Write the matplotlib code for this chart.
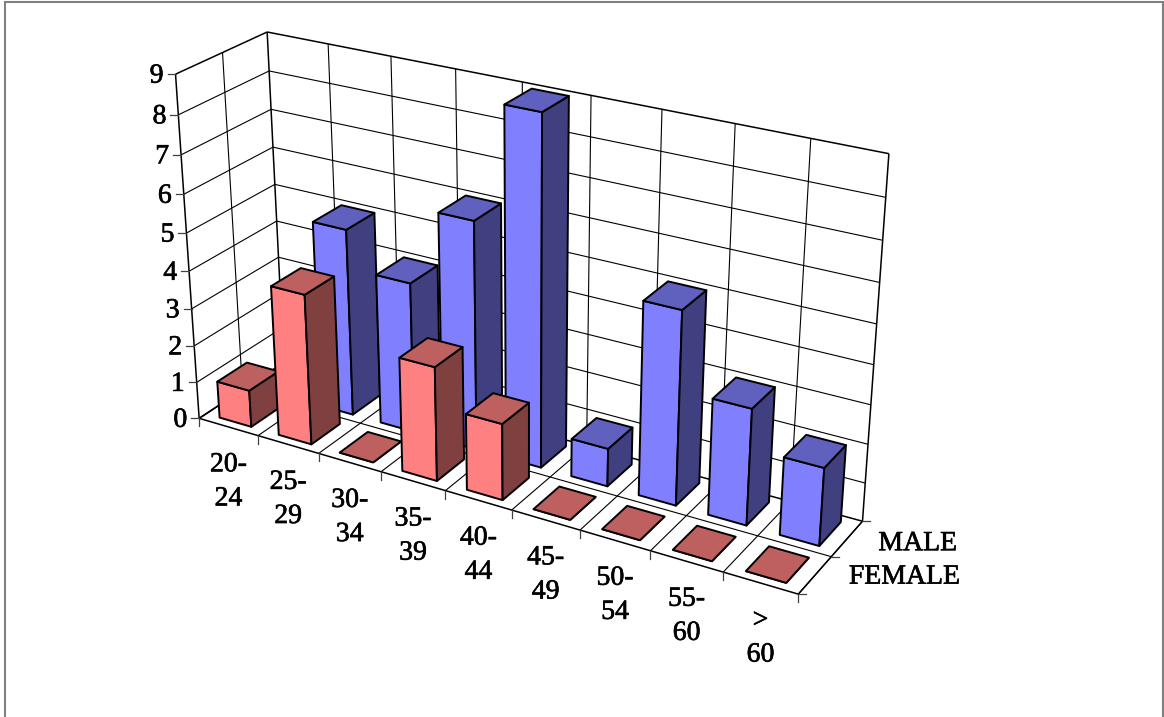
import numpy as np
import matplotlib
matplotlib.use('Agg')
import matplotlib.pyplot as plt
import matplotlib.patheffects as pe
from matplotlib.patches import Polygon, Rectangle

categories = ['20-\n24', '25-\n29', '30-\n34', '35-\n39', '40-\n44', '45-\n49', '50-\n54', '55-\n60', '>\n60']
male = [0, 5, 4, 6, 9, 1, 5, 3, 2]
female = [1, 4, 0, 3, 2, 0, 0, 0, 0]
value_ticks = list(range(10))

# pixel position of known box corners and gridline ends, used to solve the camera
# (category, depth, value) -> (px, py)
camera_refs = [
    (0, 0, 0, 199.3, 417.3), (0, 0, 9, 175.7, 73.3), (0, 2, 9, 266.7, 31.7),
    (0, 2, 0, 285, 365), (9, 2, 9, 889, 153.7), (9, 2, 0, 863.3, 519.3),
    (9, 0, 0, 799, 593.3), (9, 1, 0, 830, 556), (0, 2, 3, 278, 256.7),
    (0, 0, 8, 179.3, 116), (0, 0, 7, 181.7, 156), (0, 0, 6, 184.3, 193.3),
    (0, 0, 5, 185, 233), (0, 0, 4, 189.3, 271.7), (0, 0, 3, 191.7, 307.7),
    (0, 0, 2, 194, 346), (0, 0, 1, 196.7, 381.7),
    (1, 0, 0, 257.3, 435), (2, 0, 0, 319.3, 453.3), (3, 0, 0, 380.7, 471.7),
    (4, 0, 0, 445.5, 490), (5, 0, 0, 510.7, 511.7), (6, 0, 0, 580.7, 531.7),
    (7, 0, 0, 650, 551.7), (8, 0, 0, 723.3, 572.7),
    (1, 2, 9, 327.3, 44), (2, 2, 9, 391, 56), (8, 2, 9, 811, 139),
]

A, b = [], []
for X, Y, Z, u, v in camera_refs:
    A.append([X, Y, Z, 1, 0, 0, 0, 0, -u * X, -u * Y, -u * Z])
    A.append([0, 0, 0, 0, X, Y, Z, 1, -v * X, -v * Y, -v * Z])
    b += [u, v]
cam = np.append(np.linalg.lstsq(np.array(A), np.array(b), rcond=None)[0], 1).reshape(3, 4)


def project(x, y, z):
    w = cam @ np.array([x, y, z, 1.0])
    return w[0] / w[2], w[1] / w[2]


plt.rcParams['font.family'] = 'Liberation Serif'
FONT = 20
# thicken the thin serif strokes a little
heavy = [pe.withStroke(linewidth=0.45, foreground='black')]

fig = plt.figure(figsize=(11.64, 7.17), dpi=100)
ax = fig.add_axes([0, 0, 1, 1])
ax.set_xlim(0, 1164)
ax.set_ylim(717, 0)
ax.axis('off')

n_cat = len(categories)
z_max = value_ticks[-1]


def line3(p, q, lw=1.0, color='black'):
    a, b_ = project(*p), project(*q)
    ax.plot([a[0], b_[0]], [a[1], b_[1]], color=color, lw=lw, solid_capstyle='butt', zorder=2)


# outer chart border
ax.add_patch(Rectangle((5, 2), 1157.5, 730, fc='white', ec='#808080', lw=1.5, zorder=1))

# walls and floor gridlines
for z in value_ticks:
    lw = 1.1 if z in (0, z_max) else 0.8
    line3((0, 0, z), (0, 2, z), lw)
    line3((0, 2, z), (n_cat, 2, z), lw)
for i in range(n_cat + 1):
    line3((i, 2, 0), (i, 2, z_max), 1.1 if i in (0, n_cat) else 0.8)
    line3((i, 0, 0), (i, 2, 0), 0.8 if i else 1.1)
line3((0, 0, 0), (0, 0, z_max), 1.1)
line3((0, 1, 0), (0, 1, z_max), 0.8)
line3((0, 1, 0), (n_cat, 1, 0), 0.8)
line3((0, 0, 0), (n_cat, 0, 0), 1.1)
line3((n_cat, 0, 0), (n_cat, 2, 0), 1.1)

# tick marks and labels
for z in value_ticks:
    px, py = project(0, 0, z)
    ax.plot([px - 8, px], [py, py], color='#404040', lw=0.9, zorder=2)
    ax.text(px - 12, py + 2, str(z), ha='right', va='center', fontsize=FONT, color='black', path_effects=heavy)
for i in range(n_cat + 1):
    px, py = project(i, 0, 0)
    ax.plot([px, px], [py, py + 8], color='#404040', lw=0.9, zorder=2)
for i, label in enumerate(categories):
    px, py = project(i + 0.5, 0, 0)
    ax.text(px, py + 55, label, ha='center', va='center', fontsize=FONT, linespacing=1.48, color='black',
            path_effects=heavy)
for y in range(3):
    px, py = project(n_cat, y, 0)
    ax.plot([px, px + 8], [py, py], color='#404040', lw=0.9, zorder=2)
for y, label, right, dy in [(1.5, 'MALE', 957, 5), (0.5, 'FEMALE', 960, 2)]:
    px, py = project(n_cat, y, 0)
    ax.text(right, py + dy, label, ha='right', va='center', fontsize=FONT, color='black', path_effects=heavy)

# bars: back row first, left to right inside each row
margin_x, margin_y = 0.23, 0.16


def draw_bar(i, row, value, front, side, top):
    x0, x1 = i + margin_x, i + 1 - margin_x
    y0, y1 = row + margin_y, row + 1 - margin_y
    faces = [
        ([(x0, y0, 0), (x1, y0, 0), (x1, y0, value), (x0, y0, value)], front),
        ([(x1, y0, 0), (x1, y1, 0), (x1, y1, value), (x1, y0, value)], side),
        ([(x0, y0, value), (x1, y0, value), (x1, y1, value), (x0, y1, value)], top),
    ]
    for corners, color in faces:
        pts = [project(*c) for c in corners]
        ax.add_patch(Polygon(pts, closed=True, fc=color, ec='black', lw=1.4, joinstyle='round', zorder=3))


for i, value in enumerate(male):
    draw_bar(i, 1, value, '#8080FF', '#404080', '#6060BF')
for i, value in enumerate(female):
    draw_bar(i, 0, value, '#FF8080', '#804040', '#BF6060')

fig.savefig('out.png', dpi=100)
